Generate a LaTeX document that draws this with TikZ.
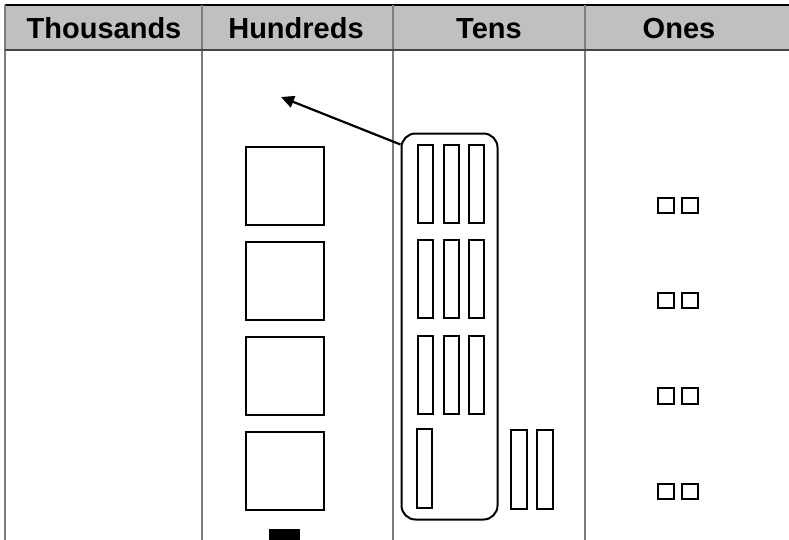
\documentclass[tikz,border=0pt]{standalone}
\usepackage{fontspec}
\setmainfont{Liberation Sans}
\usetikzlibrary{arrows.meta}
\definecolor{headgrey}{RGB}{192,192,192}
\definecolor{rulegrey}{RGB}{125,125,125}
\definecolor{edgegrey}{RGB}{70,70,70}

\begin{document}
\begin{tikzpicture}[x=1pt,y=-1pt,
    headtext/.style={anchor=base,font=\fontsize{29}{32}\selectfont\bfseries},
    flat/.style={draw=black,line width=2pt,inner sep=0pt,minimum width=78pt,minimum height=78pt},
    rod/.style={draw=black,line width=2pt,inner sep=0pt,minimum width=15.5pt,minimum height=78.5pt},
    unit/.style={draw=black,line width=2pt,inner sep=0pt,minimum size=15.5pt}]
    \clip (0,0) rectangle (789,539);
    \fill[white] (0,0) rectangle (789,539);

    % Header row
    \fill[headgrey] (5,5) rectangle (800,50);
    \draw[black,line width=2pt] (5,5) -- (800,5);
    \foreach \x in {5,202,393,585}
        \draw[rulegrey,line width=1.8pt] (\x,5) -- (\x,545);
    \draw[edgegrey,line width=2.8pt] (5,50) -- (800,50);

    \node[headtext] (thou) at (104,38) {Thousands};
    \node[headtext] (hund) at (296,38) {Hundreds};
    \node[headtext] (tens) at (489,38) {Tens};
    \node[headtext] (ones) at (679,38) {Ones};

    % Hundreds
    \foreach \y [count=\i] in {186,281,376,471}
        \node[flat] (h\i) at (285,\y) {};
    \node[fill=black,inner sep=0pt,minimum width=31pt,minimum height=16pt] (hblk) at (284.5,537) {};

    % Tens
    \node[draw=black,line width=2pt,rounded corners=14pt,inner sep=0pt,
          minimum width=96pt,minimum height=386pt] (grp) at (449.5,326.5) {};
    \foreach \y [count=\r] in {184,279,375}
        \foreach \x [count=\c] in {425.5,451.5,476.5}
            \node[rod] (t\r\c) at (\x,\y) {};
    \node[rod] (t41) at (424.5,468.5) {};
    \node[rod] (x1) at (519,469.5) {};
    \node[rod] (x2) at (545,469.5) {};

    % Regroup arrow
    \coordinate (dest) at (281,97);
    \draw[line width=2.2pt,-{Triangle[length=13pt,width=12pt]}] ([yshift=-12pt]grp.north west) -- (dest);

    % Ones
    \foreach \y [count=\i] in {205.5,300.5,396,491.5} {
        \node[unit] (oa\i) at (666,\y) {};
        \node[unit] (ob\i) at (690,\y) {};
    }
\end{tikzpicture}
\end{document}
